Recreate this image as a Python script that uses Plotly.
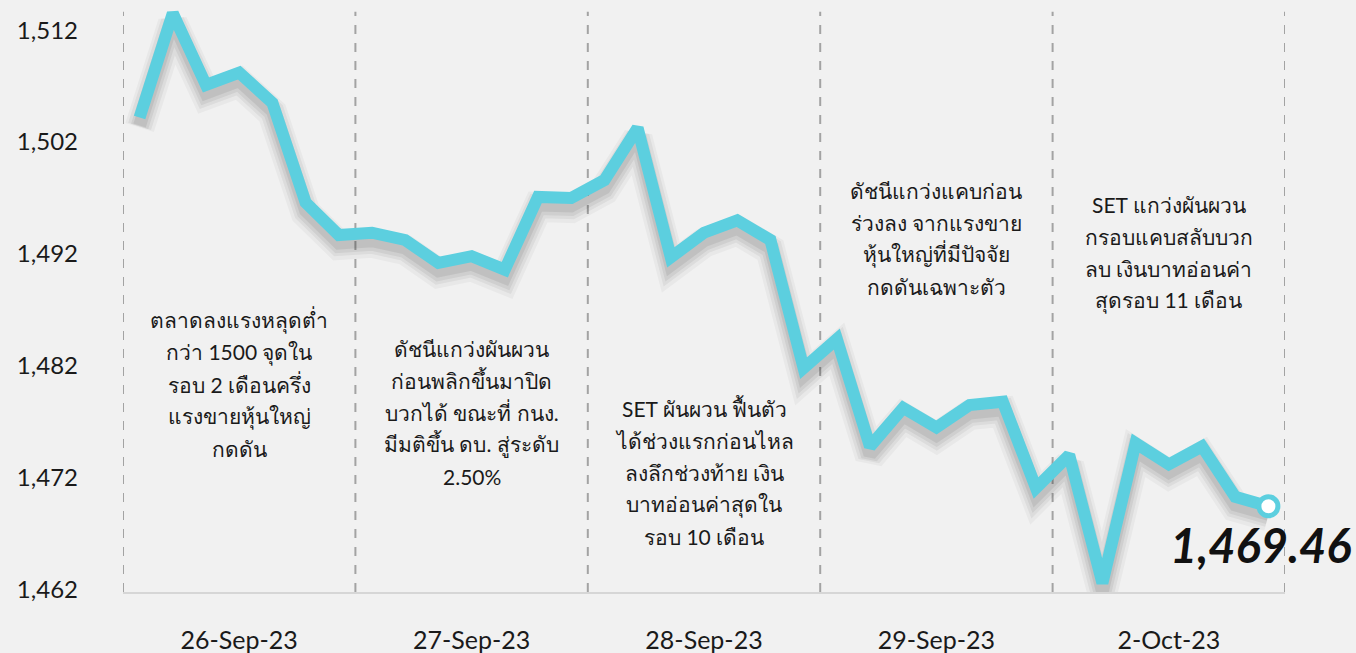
import plotly.graph_objects as go

# ---------------- data ----------------
day_labels = ["26-Sep-23", "27-Sep-23", "28-Sep-23", "29-Sep-23", "2-Oct-23"]
points_per_day = 7
set_index = [
    1504.2, 1513.5, 1507.1, 1508.2, 1505.5, 1496.6, 1493.7,
    1493.9, 1493.25, 1491.2, 1491.8, 1490.6, 1497.1, 1497.0,
    1498.6, 1503.25, 1491.7, 1493.9, 1495.0, 1493.25, 1481.8,
    1484.4, 1474.8, 1478.25, 1476.5, 1478.5, 1478.8, 1471.1,
    1474.05, 1462.6, 1475.1, 1473.2, 1474.8, 1470.3, 1469.46,
]
y_ticks = [1462, 1472, 1482, 1492, 1502, 1512]
day_notes = [
    ["ตลาดลงแรงหลุดต่ำ", "กว่า 1500 จุดใน", "รอบ 2 เดือนครึ่ง", "แรงขายหุ้นใหญ่", "กดดัน"],
    ["ดัชนีแกว่งผันผวน", "ก่อนพลิกขึ้นมาปิด", "บวกได้ ขณะที่ กนง.", "มีมติขึ้น ดบ. สู่ระดับ", "2.50%"],
    ["SET ผันผวน ฟื้นตัว", "ได้ช่วงแรกก่อนไหล", "ลงลึกช่วงท้าย เงิน", "บาทอ่อนค่าสุดใน", "รอบ 10 เดือน"],
    ["ดัชนีแกว่งแคบก่อน", "ร่วงลง จากแรงขาย", "หุ้นใหญ่ที่มีปัจจัย", "กดดันเฉพาะตัว"],
    ["SET แกว่งผันผวน", "กรอบแคบสลับบวก", "ลบ เงินบาทอ่อนค่า", "สุดรอบ 11 เดือน"],
]
# vertical centre of each note block (paper fraction)
note_centres = [0.357, 0.309, 0.206, 0.608, 0.584]

# ---------------- layout constants ----------------
W, H = 1356, 653
ML, MR, MT, MB = 123, 71, 10, 61
plot_h = H - MT - MB
line_color = "#5ccfdf"
bg = "#f1f1f1"
font_fam = "Lato, 'Noto Sans', 'DejaVu Sans', sans-serif"

n = len(set_index)
xs = list(range(n))
day_centres = [d * points_per_day + (points_per_day - 1) / 2 for d in range(len(day_labels))]
boundaries = [d * points_per_day - 0.5 for d in range(len(day_labels) + 1)]

fig = go.Figure()

# soft drop shadow (offset downward)
y_per_px = (1513.8 - 1461.8) / plot_h
for off_px, w, a in [(10, 30, 0.035), (9, 24, 0.05), (9, 18, 0.06), (8, 13, 0.07)]:
    fig.add_trace(go.Scatter(
        x=xs, y=[v - off_px * y_per_px for v in set_index], mode="lines",
        line=dict(color=f"rgba(0,0,0,{a})", width=w),
        hoverinfo="skip", showlegend=False,
    ))

fig.add_trace(go.Scatter(
    x=xs, y=set_index, mode="lines",
    line=dict(color=line_color, width=12),
    showlegend=False,
))
fig.add_trace(go.Scatter(
    x=[xs[-1]], y=[set_index[-1]], mode="markers",
    marker=dict(color="white", size=19, line=dict(color=line_color, width=5)),
    showlegend=False, cliponaxis=False,
))

# dashed day separators
for b in boundaries:
    fig.add_shape(type="line", xref="x", yref="paper", x0=b, x1=b, y0=0, y1=0.997,
                  line=dict(color="#a3a3a3", width=2, dash="9px,9px"), layer="below")

# notes, one line per annotation for precise line spacing
line_gap = 32 / plot_h
for dc, lines, yc in zip(day_centres, day_notes, note_centres):
    k = len(lines)
    for i, t in enumerate(lines):
        fig.add_annotation(
            x=dc, xref="x", y=yc + ((k - 1) / 2 - i) * line_gap, yref="paper",
            text=t, showarrow=False, xanchor="center", yanchor="middle",
            font=dict(family=font_fam, size=21, color="#1a1a1a"),
        )

# last value label
fig.add_annotation(
    x=xs[-1], y=set_index[-1], xref="x", yref="y",
    text=f"<b><i>{set_index[-1]:,.2f}</i></b>", showarrow=False,
    xanchor="center", yanchor="middle", xshift=-8, yshift=-39,
    font=dict(family=font_fam, size=47, color="#111111", weight=900),
)

fig.update_layout(
    width=W, height=H,
    margin=dict(l=ML, r=MR, t=MT, b=MB),
    paper_bgcolor=bg, plot_bgcolor=bg,
    showlegend=False,
    xaxis=dict(
        range=[-0.5, n - 0.5], tickvals=day_centres, ticktext=day_labels,
        showgrid=False, zeroline=False, showline=True, linecolor="#d6d6d6", linewidth=2,
        ticks="", ticklabelstandoff=25, automargin=False,
        tickfont=dict(family=font_fam, size=25, color="#1a1a1a"),
    ),
    yaxis=dict(
        range=[1461.8, 1513.8], tickvals=y_ticks, tickformat=",",
        showgrid=False, zeroline=False, showline=False, ticks="",
        ticklabelstandoff=44, automargin=False,
        tickfont=dict(family=font_fam, size=24, color="#1a1a1a"),
    ),
)

fig.write_html(
    "out.html",
    config={"displayModeBar": False},
    post_script="document.body.style.margin='0';document.body.style.background='#f1f1f1';",
)
